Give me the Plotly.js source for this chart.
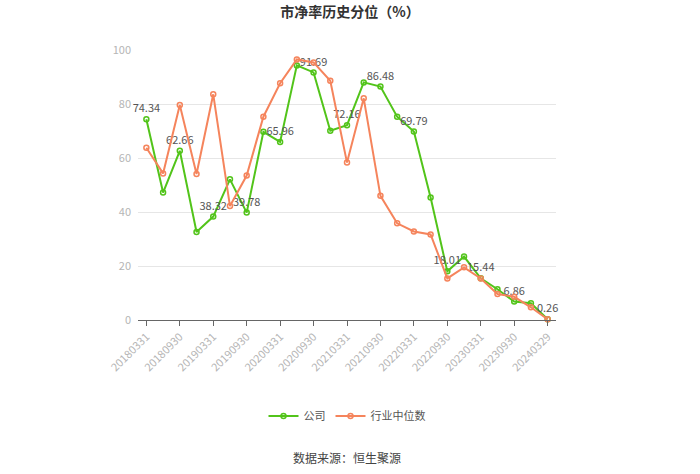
<!DOCTYPE html>
<html>
<head>
<meta charset="utf-8">
<script src="https://cdn.plot.ly/plotly-3.0.1.min.js"></script>
<style>html,body{margin:0;padding:0;background:#fff;}#chart{width:700px;height:474px;}</style>
</head>
<body>
<div id="chart"></div>
<script>
var dates = ["20180331","20180630","20180930","20181231","20190331","20190630","20190930","20191231",
  "20200331","20200630","20200930","20201231","20210331","20210630","20210930","20211231",
  "20220331","20220630","20220930","20221231","20230331","20230630","20230930","20231231","20240329"];
var tickLabels = ["20180331","20180930","20190331","20190930","20200331","20200930","20210331",
  "20210930","20220331","20220930","20230331","20230930","20240329"];
var company = [74.34,47.2,62.66,32.6,38.32,52.1,39.78,69.7,65.96,94.3,91.69,70.1,72.16,88.0,86.48,75.3,
  69.79,45.4,18.01,23.5,15.44,11.4,6.86,6.2,0.26];
var industry = [63.8,54.3,79.6,54.1,83.6,42.2,53.5,75.3,87.7,96.5,95.4,88.6,58.3,82.1,46.0,35.8,
  32.8,31.7,15.4,19.5,15.4,9.6,8.6,4.7,0.26];
var companyName = "公司";
var industryName = "行业中位数";
var titleText = "市净率历史分位（%）";
var sourceText = "数据来源：恒生聚源";

var labels = company.map(function(v,i){ return i % 2 === 0 ? v.toFixed(2) : ""; });

var green = "#52c41a";
var orange = "#f5845c";

var traces = [
  {
    x: dates, y: company, name: companyName, type: "scatter", mode: "lines+markers+text",
    text: labels, textposition: "top center",
    textfont: {family: "Noto Sans CJK SC, sans-serif", size: 11, color: "#555"},
    line: {color: green, width: 2},
    marker: {symbol: "circle-open", size: 5, color: green, line: {width: 1.5}},
    cliponaxis: false
  },
  {
    x: dates, y: industry, name: industryName, type: "scatter", mode: "lines+markers",
    line: {color: orange, width: 2},
    marker: {symbol: "circle-open", size: 5, color: orange, line: {width: 1.5}},
    cliponaxis: false
  }
];

var layout = {
  width: 700, height: 474,
  margin: {l: 138, r: 144, t: 50, b: 154},
  paper_bgcolor: "#fff", plot_bgcolor: "#fff",
  font: {family: "Noto Sans CJK SC, sans-serif", color: "#999", size: 11},
  title: {text: "<b>" + titleText + "</b>", x: 0.5, xanchor: "center", y: 0.975, yanchor: "middle",
    font: {size: 14, color: "#333", family: "Noto Sans CJK SC, sans-serif"}},
  xaxis: {
    type: "category", categoryorder: "array", categoryarray: dates,
    range: [-0.5, 24.5],
    tickmode: "array", tickvals: tickLabels, ticktext: tickLabels,
    tickangle: -45, ticks: "outside", ticklen: 5, tickcolor: "#666",
    showline: true, linecolor: "#666", linewidth: 1,
    showgrid: false, zeroline: false,
    tickfont: {size: 11, color: "#b5b5b5"}
  },
  yaxis: {
    range: [0, 100], tickvals: [0,20,40,60,80,100],
    showgrid: true, gridcolor: "#e6e6e6", gridwidth: 1,
    zeroline: false, showline: false, ticks: "",
    tickfont: {size: 11, color: "#b5b5b5"}, ticklabelstandoff: 6
  },
  showlegend: true,
  legend: {orientation: "h", x: 0.5, xanchor: "center", y: -0.44, yanchor: "middle",
    font: {size: 11, color: "#555"}, itemwidth: 30},
  annotations: [{
    text: sourceText, xref: "paper", yref: "paper", x: 0.5, y: -0.495, xanchor: "center", yanchor: "middle",
    showarrow: false, font: {size: 12, color: "#444"}
  }]
};
var plotH = 474 - 50 - 154;
layout.annotations[0].y = (320 - 457) / plotH;
layout.legend.y = (320 - 416) / plotH;
Plotly.newPlot("chart", traces, layout, {displayModeBar: false});
</script>
</body>
</html>
